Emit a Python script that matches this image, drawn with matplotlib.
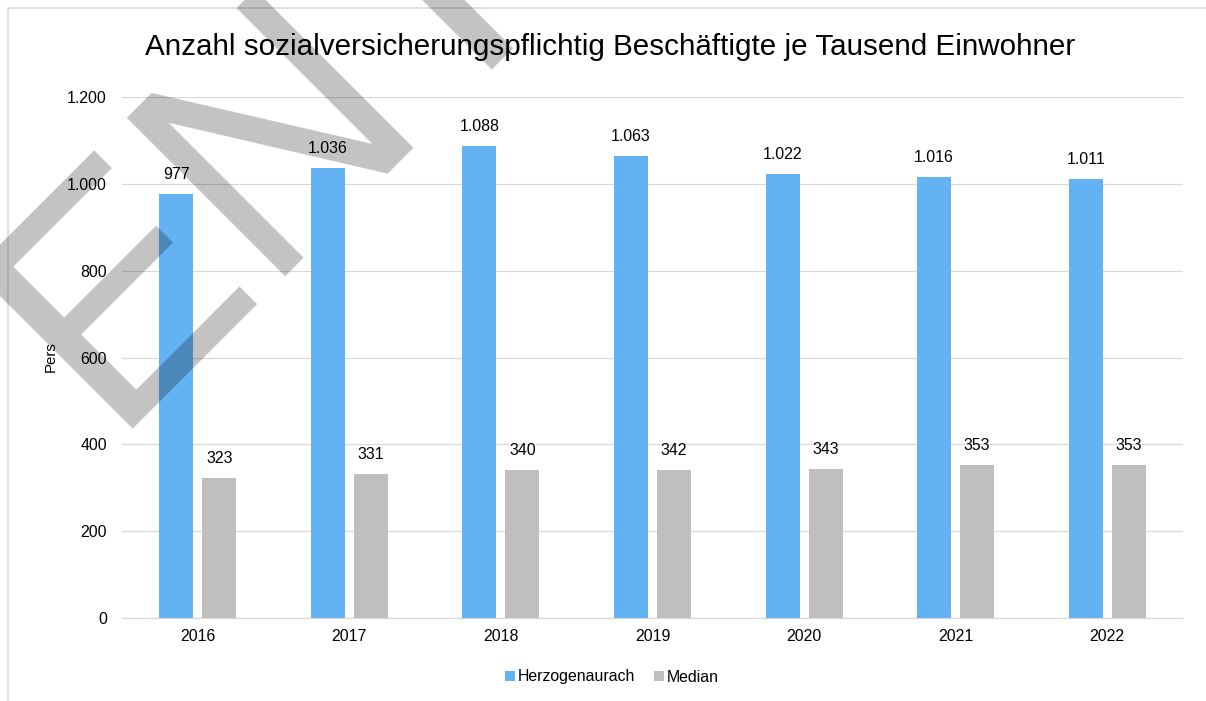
import matplotlib
matplotlib.use("Agg")
import matplotlib.pyplot as plt
from matplotlib.patches import Rectangle, Patch
from matplotlib.ticker import FuncFormatter
import numpy as np

plt.rcParams['font.family'] = ['Liberation Sans', 'DejaVu Sans']

years = ["2016", "2017", "2018", "2019", "2020", "2021", "2022"]
herzogenaurach = [977, 1036, 1088, 1063, 1022, 1016, 1011]
median = [323, 331, 340, 342, 343, 353, 353]
series_names = ["Herzogenaurach", "Median"]
title = "Anzahl sozialversicherungspflichtig Beschäftigte je Tausend Einwohner"
y_label = "Pers"
watermark = "ENTWURF"

BLUE = "#63B3F4"
GREY = "#BFBFBF"
GRID = "#D9D9D9"

W, H, DPI = 1206, 701, 100
fig = plt.figure(figsize=(W / DPI, H / DPI), dpi=DPI)

def px(x, y):
    return x / W, 1 - y / H

# plot area
left, top = px(122, 97)
right, bottom = px(1183, 618)
ax = fig.add_axes([left, bottom, right - left, top - bottom])

x = np.arange(len(years))
bw = 0.224
off = 0.142
b1 = ax.bar(x - off, herzogenaurach, bw, color=BLUE, zorder=3)
b2 = ax.bar(x + off, median, bw, color=GREY, zorder=3)

def de_fmt(v):
    return f"{int(round(v)):,}".replace(",", ".")

fs = 11.4
for bars, vals in ((b1, herzogenaurach), (b2, median)):
    for rect, v in zip(bars, vals):
        ax.annotate(de_fmt(v), (rect.get_x() + rect.get_width() / 2, v),
                    xytext=(0, 15), textcoords="offset pixels",
                    ha="center", va="baseline", fontsize=fs, color="#000000")

ax.set_xlim(-0.5, len(years) - 0.5)
ax.set_ylim(0, 1200)
ax.set_yticks(np.arange(0, 1201, 200))
ax.yaxis.set_major_formatter(FuncFormatter(lambda v, p: de_fmt(v)))
ax.set_xticks(x)
ax.set_xticklabels(years)
ax.tick_params(axis="y", length=0, pad=10.8, labelsize=fs, labelcolor="#000000")
ax.tick_params(axis="x", length=0, pad=7.9, labelsize=fs, labelcolor="#000000")
ax.grid(axis="y", color=GRID, linewidth=0.9, zorder=0)
ax.set_axisbelow(True)
for s in ("top", "right", "left"):
    ax.spines[s].set_visible(False)
ax.spines["bottom"].set_color(GRID)
ax.spines["bottom"].set_linewidth(0.9)

# axis title
tx, ty = px(51, 357)
fig.text(tx, ty, y_label, rotation=90, ha="center", va="center", fontsize=10.8)

# chart title
tx, ty = px(610.5, 55)
fig.text(tx, ty, title, ha="center", va="baseline", fontsize=21.3, color="#000000")

# legend
handles = [Patch(facecolor=BLUE, edgecolor="none"), Patch(facecolor=GREY, edgecolor="none")]
lx, ly = px(612, 677)
fig.legend(handles, series_names, loc="center", bbox_to_anchor=(lx, ly), ncol=2,
           frameon=False, fontsize=fs, handlelength=0.6, handleheight=0.6,
           handletextpad=0.2, columnspacing=1.2, borderpad=0, borderaxespad=0)

# chart frame
fx, fy = px(8, 8)
fig.add_artist(Rectangle((fx, -0.1), 1.2, fy + 0.1, transform=fig.transFigure,
                         fill=False, edgecolor=GRID, linewidth=1.1, zorder=1))

# draft watermark
wx, wy = px(106, 429)
fig.text(wx, wy, watermark, rotation=45, rotation_mode="anchor", ha="left",
         va="baseline", fontsize=234, color="black", alpha=0.24, zorder=10)

fig.savefig("out.png", dpi=DPI)
